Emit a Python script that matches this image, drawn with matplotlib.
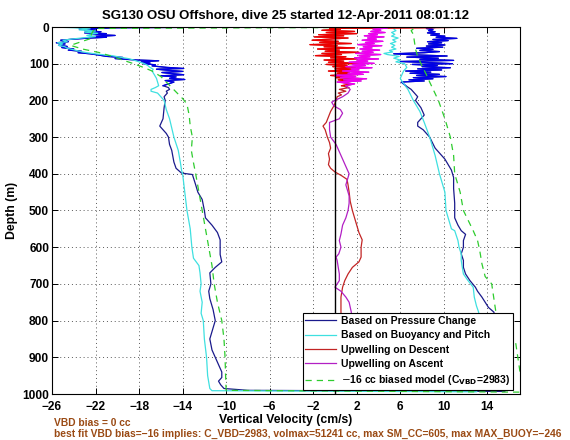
import matplotlib
matplotlib.use("Agg")
import matplotlib.pyplot as plt
import numpy as np

plt.rcParams['font.family'] = ['Liberation Sans', 'DejaVu Sans']

# ---------------- data ----------------
title = "SG130 OSU Offshore, dive 25 started 12-Apr-2011 08:01:12"
x_ticks = [-26, -22, -18, -14, -10, -6, -2, 2, 6, 10, 14]
y_ticks = [0, 100, 200, 300, 400, 500, 600, 700, 800, 900, 1000]

# Based on pressure change: descent (depth m, velocity cm/s)
press_desc_depth = [0, 2, 5, 8, 10, 13, 16, 18, 20, 23, 26, 28, 30, 33, 36, 40, 43, 46, 50, 53, 56,
                    60, 63, 66, 70, 73, 76, 80, 83, 86, 90, 92, 95, 98, 100, 103, 106, 110, 113, 115,
                    118, 121, 124, 127, 130, 133, 136, 140, 143, 146, 150, 155, 160, 165, 170, 175,
                    180, 190, 200, 220, 250, 270, 290, 300, 320, 336, 368, 385, 398, 402, 430, 450,
                    470, 500, 520, 540, 560, 580, 620, 640, 655, 670, 700, 720, 740, 770, 800, 830,
                    850, 880, 900, 920, 940, 955, 965, 975, 985, 990]
press_desc_vel = [-7, -20, -23.5, -22, -23, -21.5, -23, -21, -22.5, -20.2, -22, -21, -22.5, -24, -25.2,
                  -24.5, -25.6, -24.8, -25.4, -24.6, -25.1, -24.0, -24.5, -23.3, -23.6, -22.5, -21.8,
                  -21.0, -19.5, -20.2, -18.2, -16.2, -17.8, -17.0, -17.6, -16.5, -16.8, -15.5, -13.9,
                  -16.4, -15.3, -14.0, -15.9, -15.0, -13.9, -16.0, -14.6, -15.2, -13.8, -15.6, -14.8,
                  -15.3, -15.8, -15.3, -15.2, -15.5, -15.4, -15.7, -15.6, -15.7, -15.8, -16.1, -15.5,
                  -15.3, -15.2, -15.0, -14.8, -14.6, -14.1, -13.1, -12.8, -12.6, -12.2, -12.0, -11.9,
                  -11.3, -10.8, -10.55, -10.55, -10.4, -11.0, -11.5, -11.4, -11.6, -11.5, -11.2,
                  -11.0, -11.3, -11.5, -11.3, -11.0, -10.7, -10.4, -10.4, -10.7, -10.5, -10.2, -8.0]
# Based on pressure change: ascent
press_asc_depth = [993, 985, 970, 950, 930, 900, 870, 840, 810, 790, 777, 764, 750, 736, 720, 709, 691,
                   673, 655, 636, 618, 600, 582, 565, 555, 540, 520, 480, 440, 410, 390, 360, 330, 300,
                   280, 270, 260, 240, 220, 200, 190, 170, 160, 150, 147, 144, 141, 138, 135, 132, 129,
                   126, 123, 120, 117, 114, 111, 108, 105, 102, 100, 97, 94, 91, 88, 85, 82, 79, 76,
                   73, 70, 67, 64, 61, 58, 55, 52, 49, 46, 43, 40, 37, 34, 31, 28, 25, 22, 19, 16, 13,
                   10, 7, 4, 2, 0]
press_asc_vel = [15.6, 15.8, 15.6, 15.3, 15.2, 15.0, 14.9, 14.9, 14.8, 14.7, 14.6, 14.1, 13.8, 13.5,
                 13.1, 12.9, 12.4, 12.0, 11.8, 11.8, 11.6, 11.8, 11.8, 12.0, 11.6, 11.3, 11.0, 11.0,
                 10.9, 10.9, 10.7, 10.1, 9.2, 8.7, 8.1, 7.6, 7.6, 8.2, 7.9, 7.4, 7.6, 7.0, 6.5, 6.1,
                 8.2, 6.8, 9.0, 7.2, 10.2, 7.5, 9.6, 6.9, 8.8, 6.5, 9.8, 7.6, 10.6, 8.0, 9.4, 7.1,
                 10.8, 8.6, 6.0, 10.9, 7.8, 9.5, 6.6, 10.3, 7.4, 5.4, 8.2, 9.6, 7.8, 9.0, 7.5, 9.9,
                 8.4, 10.1, 8.6, 9.8, 8.5, 10.4, 9.0, 11.2, 9.3, 10.1, 8.8, 9.6, 8.5, 9.2, 8.6, 9.0,
                 8.4, 9.0, 9.5]

# Based on buoyancy and pitch
buoy_desc_depth = [0, 2, 5, 8, 11, 14, 17, 20, 23, 26, 30, 33, 36, 40, 43, 46, 50, 54, 58, 62, 66,
                   70, 74, 78, 82, 86, 90, 95, 100, 105, 110, 115, 120, 130, 140, 150, 160, 165, 170,
                   175, 180, 190, 200, 225, 250, 275, 300, 336, 370, 390, 400, 450, 500, 550, 600,
                   630, 650, 670, 700, 720, 750, 780, 800, 850, 900, 950, 985, 991]
buoy_desc_vel = [-26, -24, -22.5, -23.5, -22.0, -23.0, -21.8, -22.4, -22.8, -22.0, -23.3, -24.2,
                 -25.0, -24.6, -25.5, -25.0, -25.4, -24.8, -24.6, -24.0, -23.5, -22.8, -21.8, -20.5,
                 -19.8, -19.0, -18.5, -18.0, -17.5, -17.2, -17.0, -16.7, -16.8, -16.6, -16.4, -16.3,
                 -16.2, -16.5, -16.9, -16.9, -16.3, -16.0, -15.7, -15.5, -15.2, -15.0, -14.8, -14.4,
                 -14.2, -14.1, -14.0, -13.8, -13.6, -13.3, -13.15, -13.0, -12.5, -12.4, -12.3, -12.4,
                 -12.2, -12.3, -12.1, -12.0, -11.8, -11.7, -11.5, -11.3]
buoy_asc_depth = [994, 985, 950, 900, 850, 800, 777, 760, 736, 709, 690, 673, 655, 636, 618, 600, 582,
                  564, 555, 550, 500, 450, 400, 350, 300, 260, 230, 200, 170, 150, 140, 120, 110, 100,
                  95, 90, 85, 80, 75, 72, 68, 64, 60, 55, 50, 45, 40, 35, 30, 25, 20, 15, 10, 5, 0]
buoy_asc_vel = [13.0, 13.2, 13.3, 13.3, 13.2, 13.2, 13.2, 13.0, 12.8, 12.7, 12.2, 11.8, 11.7, 11.6,
                11.6, 11.4, 11.3, 11.1, 11.0, 10.7, 10.2, 10.1, 9.6, 9.2, 8.7, 8.2, 7.8, 7.2, 6.7,
                6.2, 6.0, 6.3, 6.6, 6.4, 5.6, 6.0, 5.4, 5.9, 4.8, 4.5, 5.3, 5.0, 5.6, 5.2, 5.5, 5.1,
                5.6, 5.3, 5.8, 5.2, 5.5, 5.2, 5.6, 5.4, 5.5]

# Upwelling on descent
upw_desc_depth = [0, 1, 2, 4, 6, 9, 12, 15, 18, 21, 24, 27, 30, 33, 36, 39, 42, 45, 48, 51, 54, 57,
                  60, 63, 66, 69, 72, 75, 78, 81, 84, 87, 90, 93, 96, 99, 102, 105, 108, 111, 114,
                  117, 120, 123, 126, 129, 132, 135, 138, 141, 144, 147, 150, 155, 160, 165, 170,
                  175, 180, 185, 190, 200, 215, 230, 245, 260, 270, 280, 290, 300, 315, 330, 345,
                  360, 375, 385, 395, 405, 415, 430, 450, 475, 500, 530, 560, 580, 600, 627, 640,
                  655, 673, 691, 709, 736, 760, 777, 800, 850, 900, 950, 990]
upw_desc_vel = [14.5, 11, 8, -0.5, 0.5, -1.2, 1.8, -0.8, 2.0, -1.5, 0.8, -1.9, 1.2, -0.5, -2.1, 0.3,
                -1.4, 1.5, -2.3, 0.2, -1.0, 1.8, -1.6, 0.4, -0.9, 2.2, -1.2, 0.6, -1.8, 1.0, -0.4,
                2.0, -1.0, 0.8, -0.6, 2.4, -0.8, 1.1, -0.2, 1.9, 0.0, 1.6, -0.6, 1.3, 0.2, 2.3, -0.4,
                1.0, 0.1, 2.5, 0.3, 1.2, 0.5, 1.6, 0.6, 1.3, 0.4, 1.0, 0.3, 0.6, 0.2, 0.1, -0.1,
                -0.4, -0.6, -0.8, -1.1, -0.9, -0.8, -0.7, -0.5, -0.4, -0.6, -0.5, -0.6, -0.4, 0.0,
                0.6, 1.1, 1.2, 1.3, 1.4, 1.6, 1.9, 2.2, 2.5, 2.4, 2.4, 2.2, 1.6, 1.2, 0.9, 0.7, 0.55,
                0.55, 0.55, 0.6, 0.6, 0.7, 0.7, 0.8]

# Upwelling on ascent
upw_asc_depth = [990, 950, 900, 850, 800, 777, 750, 736, 720, 709, 691, 673, 655, 636, 627, 618, 600,
                 582, 564, 540, 520, 500, 480, 460, 430, 400, 380, 360, 340, 320, 300, 280, 260, 250,
                 235, 225, 215, 205, 200, 190, 180, 170, 160, 155, 150, 147, 144, 141, 138, 135, 132,
                 129, 126, 123, 120, 117, 114, 111, 108, 105, 102, 99, 96, 93, 90, 87, 84, 81, 78, 75,
                 72, 69, 66, 63, 60, 57, 54, 51, 48, 45, 42, 39, 36, 33, 30, 27, 24, 21, 18, 15, 12,
                 9, 6, 3, 0]
upw_asc_vel = [1.0, 1.2, 1.3, 1.4, 1.5, 1.5, 1.3, 1.0, 0.55, 0.0, 0.4, 0.4, 0.3, 0.2, 0.1, 0.35, 0.55,
               0.4, 0.55, 0.7, 1.0, 1.2, 1.3, 1.3, 1.0, 1.3, 1.0, 0.7, 0.4, 0.1, -0.4, -0.5, -0.5, 0.4,
               0.7, 0.5, -0.1, -0.3, 0.0, 0.7, 1.2, 1.4, 1.0, 1.8, 0.2, 2.4, 0.8, 2.9, 0.5, 1.9, 0.0,
               2.6, 1.2, 3.1, 0.7, 2.2, 1.5, 3.4, 1.0, 2.8, 1.6, 3.6, 1.3, 3.0, 2.0, 4.0, 1.8, 3.2,
               2.2, 4.2, 1.9, 3.5, 2.5, 4.1, 2.3, 3.4, 2.6, 4.3, 2.1, 3.6, 2.8, 4.4, 2.5, 3.8, 3.0,
               4.5, 2.7, 3.9, 3.1, 4.6, 3.3, 4.2, 3.5, 4.8, 4.0]

# -16 cc biased model
model_desc_depth = [0, 2, 4, 10, 20, 30, 40, 50, 60, 70, 80, 90, 100, 110, 120, 135, 150, 165, 180,
                    195, 210, 240, 270, 300, 336, 370, 400, 450, 500, 550, 600, 650, 700, 750, 800,
                    850, 900, 950, 990]
model_desc_vel = [15.0, -5, -22.0, -22.2, -22.4, -22.3, -23.3, -24.3, -23.2, -21.6, -20.5, -19.5,
                  -18.5, -17.6, -16.8, -16.0, -15.5, -15.0, -14.5, -14.0, -13.6, -13.4, -13.3, -13.1,
                  -13.2, -13.0, -12.8, -12.5, -12.2, -11.9, -11.6, -11.3, -11.1, -10.8, -10.4, -10.2,
                  -10.1, -10.05, -10.0]
model_asc_depth = [995, 970, 940, 900, 860, 830, 800, 780, 740, 700, 680, 645, 609, 582, 555, 500, 450,
                   400, 350, 300, 250, 200, 150, 130, 100, 80, 60, 40, 20, 10, 5, 0]
model_asc_vel = [17.5, 17.2, 17.0, 16.8, 16.6, 15.8, 15.0, 14.8, 14.6, 14.4, 13.8, 13.5, 13.3, 13.1,
                 12.7, 11.8, 11.5, 11.0, 10.9, 10.6, 10.1, 9.5, 8.7, 8.4, 7.9, 7.6, 7.4, 7.3, 7.2,
                 7.0, 7.2, 7.5]

labels = ["Based on Pressure Change", "Based on Buoyancy and Pitch", "Upwelling on Descent",
          "Upwelling on Ascent", r"$-$16 cc biased model (C$_{\mathbf{VBD}}$=2983)"]
note1 = "VBD bias = 0 cc"
note2 = ("best fit VBD bias=\u221216 implies: C_VBD=2983, volmax=51241 cc, "
         "max SM_CC=605, max MAX_BUOY=\u2212246")

# ---------------- figure ----------------
W, H = 570, 440
fig = plt.figure(figsize=(W / 100, H / 100), dpi=100)
ax = fig.add_axes([52 / W, 1 - 394 / H, 468 / W, 367 / H])

NOISY = 160  # depth above which raw traces look saturated


def trace(parts, deep_col, top_col, label, **kw):
    d = np.concatenate([np.asarray(p[0], float) for p in parts])
    v = np.concatenate([np.asarray(p[1], float) for p in parts])
    ax.plot(v, d, color=deep_col, lw=0.9, label=label, **kw)
    if top_col is not None:
        for pd_, pv_ in parts:
            pd_ = np.asarray(pd_, float)
            pv_ = np.asarray(pv_, float)
            m = pd_ <= NOISY
            ax.plot(pv_[m], pd_[m], color=top_col, lw=0.9, **kw)


trace([(press_desc_depth, press_desc_vel), (press_asc_depth, press_asc_vel)],
      '#1a1a8c', '#0000e6', labels[0])
trace([(buoy_desc_depth, buoy_desc_vel), (buoy_asc_depth, buoy_asc_vel)],
      '#3fe0e0', None, labels[1])
trace([(upw_desc_depth, upw_desc_vel)], '#c22424', '#ee0000', labels[2])
trace([(upw_asc_depth, upw_asc_vel)], '#b21fc4', '#f000f0', labels[3])
trace([(model_desc_depth, model_desc_vel), (model_asc_depth, model_asc_vel)],
      '#2ecc2e', None, labels[4], linestyle=(0, (5, 4)))

ax.axvline(0, color='k', lw=1.0, zorder=5)

ax.set_xlim(-26, 17)
ax.set_ylim(1000, 0)
ax.set_xticks(x_ticks)
ax.set_yticks(y_ticks)
ax.set_xticklabels([f"{t:d}".replace('-', '\u2212') for t in x_ticks], fontsize=8.6, fontweight='bold')
ax.set_yticklabels([str(t) for t in y_ticks], fontsize=8.6, fontweight='bold')
ax.tick_params(direction='in', length=4, width=0.7, top=True, right=True, pad=2)
ax.tick_params(axis='x', pad=5)
ax.grid(True, color='0.35', linestyle=(0, (1, 3)), lw=0.7)
for s in ax.spines.values():
    s.set_linewidth(0.8)

ax.set_title(title, fontsize=9.5, fontweight='bold', pad=6)
ax.set_xlabel("Vertical Velocity (cm/s)", fontsize=8.8, fontweight='bold', labelpad=1)
ax.set_ylabel("Depth (m)", fontsize=8.8, fontweight='bold', labelpad=3)

leg = ax.legend(loc='lower right', bbox_to_anchor=(0.985, 0.011), fancybox=False, framealpha=1,
                edgecolor='k', borderaxespad=0, borderpad=0.25, labelspacing=0.42, handlelength=3.0,
                handletextpad=0.45, prop={'size': 7.5, 'weight': 'bold'})
leg.get_frame().set_linewidth(0.8)

brown = '#9a4a14'
fig.text(54 / W, 1 - 423 / H, note1, color=brown, fontsize=7.4, fontweight='bold', va='center')
fig.text(54 / W, 1 - 434 / H, note2, color=brown, fontsize=7.4, fontweight='bold', va='center')

fig.savefig("out.png", dpi=100)
